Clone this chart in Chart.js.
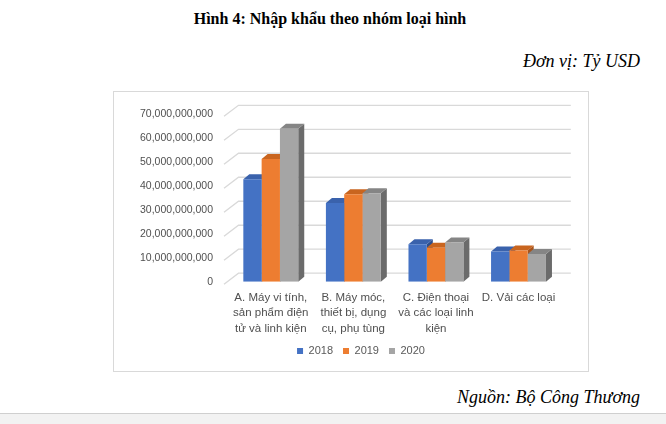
<!DOCTYPE html>
<html>
<head>
<meta charset="utf-8">
<script src="https://cdn.jsdelivr.net/npm/chart.js@4.4.0/dist/chart.umd.min.js"></script>
<style>
    body { margin: 0; width: 666px; height: 424px; background: #fff; position: relative; overflow: hidden; }
    .title { position: absolute; left: 0; width: 660px; top: 10px; text-align: center;
        font: bold 16px "Liberation Serif", serif; color: #000; }
    .unit { position: absolute; right: 26px; top: 51px; font: italic 18px "Liberation Serif", serif; color: #000; }
    .source { position: absolute; right: 26px; top: 387px; font: italic 18px "Liberation Serif", serif; color: #000; }
    #box { position: absolute; left: 113px; top: 91px; width: 474px; height: 279px; border: 1px solid #d9d9d9; }
    #chartWrap { position: absolute; left: 113px; top: 91px; width: 476px; height: 281px; }
    .strip { position: absolute; left: 0; top: 413px; width: 666px; height: 11px; background: #f2f2f2; border-top: 1px solid #cfcfcf; }
</style>
</head>
<body>
<div class="title">Hình 4: Nhập khẩu theo nhóm loại hình</div>
<div class="unit">Đơn vị: Tỷ USD</div>
<div id="box"></div>
<div id="chartWrap"><canvas id="importChart"></canvas></div>
<div class="source">Nguồn: Bộ Công Thương</div>
<div class="strip"></div>
<script>
const categories = [
    ["A. Máy vi tính,", "sản phẩm điện", "tử và linh kiện"],
    ["B. Máy móc,", "thiết bị, dụng", "cụ, phụ tùng"],
    ["C. Điện thoại", "và các loại linh", "kiện"],
    ["D. Vải các loại"]
];
const years = ["2018", "2019", "2020"];
const values2018 = [42700000000, 32800000000, 15600000000, 12600000000];
const values2019 = [51200000000, 36500000000, 14200000000, 13000000000];
const values2020 = [63800000000, 36900000000, 16300000000, 11600000000];

const frontColors = ["#4472C4", "#ED7D31", "#A5A5A5"];
const topColors = ["#3A62AC", "#C9651F", "#858585"];
const sideColors = ["#2E4F8C", "#A8531A", "#6B6B6B"];

const DX = 6, DY = 5; // bar depth
const LEGEND_SHIFT = 14.6;

// back wall gridlines + 3D faces of the bars
const depthPlugin = {
    id: 'depth',
    afterLayout(chart) {
        // legend sits a bit right of the canvas centre in the original
        chart.legend.left += LEGEND_SHIFT;
        chart.legend.right += LEGEND_SHIFT;
    },
    beforeDatasetsDraw(chart) {
        const ctx = chart.ctx;
        const y = chart.scales.y;
        const area = chart.chartArea;
        ctx.save();
        ctx.strokeStyle = '#d9d9d9';
        ctx.lineWidth = 1.3;
        y.ticks.forEach(t => {
            const py = y.getPixelForValue(t.value);
            ctx.beginPath();
            ctx.moveTo(area.left - 5.5, py + 2.5);
            ctx.lineTo(area.left + 9, py - 8.5);
            ctx.lineTo(area.right + 11, py - 8.5);
            ctx.stroke();
        });
        chart.data.datasets.forEach((ds, di) => {
            chart.getDatasetMeta(di).data.forEach(bar => {
                const l = bar.x - bar.width / 2, r = bar.x + bar.width / 2;
                ctx.fillStyle = sideColors[di];
                ctx.beginPath();
                ctx.moveTo(r, bar.y);
                ctx.lineTo(r + DX, bar.y - DY);
                ctx.lineTo(r + DX, bar.base - DY);
                ctx.lineTo(r, bar.base);
                ctx.closePath();
                ctx.fill();
                ctx.fillStyle = topColors[di];
                ctx.beginPath();
                ctx.moveTo(l, bar.y);
                ctx.lineTo(l + DX, bar.y - DY);
                ctx.lineTo(r + DX, bar.y - DY);
                ctx.lineTo(r, bar.y);
                ctx.closePath();
                ctx.fill();
            });
        });
        ctx.restore();
    }
};

new Chart(document.getElementById('importChart'), {
    type: 'bar',
    data: {
        labels: categories,
        datasets: [
            { label: years[0], data: values2018, backgroundColor: frontColors[0] },
            { label: years[1], data: values2019, backgroundColor: frontColors[1] },
            { label: years[2], data: values2020, backgroundColor: frontColors[2] }
        ]
    },
    options: {
        responsive: true,
        maintainAspectRatio: false,
        animation: false,
        barPercentage: 1,
        categoryPercentage: 0.665,
        layout: { padding: { left: 20, right: 29.2, top: 21.2, bottom: 5.4 } },
        plugins: {
            legend: {
                position: 'bottom',
                labels: {
                    boxWidth: 6, boxHeight: 6, padding: 10,
                    color: '#595959',
                    font: { family: 'Liberation Sans', size: 11 }
                }
            },
            tooltip: { enabled: false }
        },
        scales: {
            x: {
                grid: { display: false, drawTicks: false },
                border: { display: false },
                ticks: {
                    color: '#505050', padding: 8, maxRotation: 0, autoSkip: false,
                    font: { family: 'Liberation Sans', size: 11.5, lineHeight: 1.35 }
                },
                afterFit(scale) { scale.height = 53.9; }
            },
            y: {
                min: 0, max: 70000000000,
                grid: { display: false, drawTicks: false },
                border: { display: false },
                ticks: {
                    stepSize: 10000000000, padding: 16.5,
                    color: '#505050',
                    font: { family: 'Liberation Sans', size: 10.5 },
                    callback: v => v.toLocaleString('en-US')
                },
                afterFit(scale) { scale.width = 96.5; }
            }
        }
    },
    plugins: [depthPlugin]
});
</script>
</body>
</html>
